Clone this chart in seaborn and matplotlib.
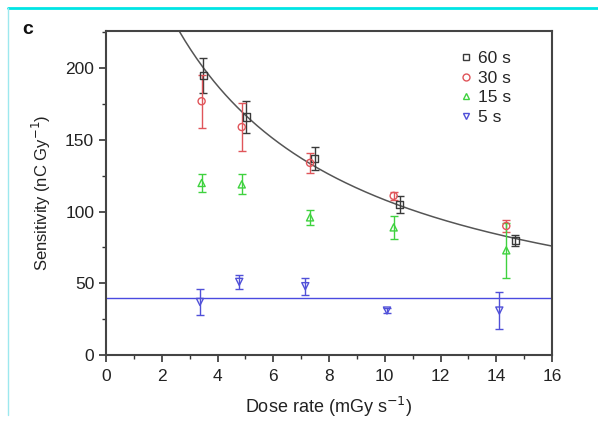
import numpy as np
import pandas as pd
import matplotlib
matplotlib.use("Agg")
import matplotlib.pyplot as plt
from matplotlib.lines import Line2D
import seaborn as sns

# ---- data ----
labels = ["60 s", "30 s", "15 s", "5 s"]
x60 = [3.49, 5.03, 7.48, 10.53, 14.69]
y60 = [195, 166, 137, 105, 80]
e60 = [12.5, 11, 8, 6, 4]

x30 = [3.43, 4.87, 7.32, 10.32, 14.36]
y30 = [177, 159, 134, 111, 90]
e30 = [18.5, 17, 7, 3, 4.5]

x15 = [3.43, 4.87, 7.32, 10.32, 14.36]
y15 = [120, 119, 96, 89, 73]
e15 = [6, 7, 5, 8, 19]

x5 = [3.37, 4.78, 7.15, 10.08, 14.11]
y5 = [37, 51, 48, 31, 31]
e5 = [9, 5, 6, 2, 13]

# fit parameters (curve y = A / (x + x0)) and constant line for 5 s
fit_A = 1531.0
fit_x0 = 4.15
const_5s = 40.0

xticks = [0, 2, 4, 6, 8, 10, 12, 14, 16]
yticks = [0, 50, 100, 150, 200]

colors = ["#3a3a3a", "#e0555a", "#3fd23f", "#5050d8"]
markers = ["s", "o", "^", "v"]

sns.set_style("ticks")
plt.rcParams["font.family"] = ["Liberation Sans", "DejaVu Sans"]

fig = plt.figure(figsize=(5.98, 4.21), dpi=100)
fig.patch.set_facecolor("white")
ax = fig.add_axes([106 / 598, 1 - 355 / 421, (552 - 106) / 598, (355 - 31) / 421])

# fitted curve and constant line
xc = np.linspace(0.5, 16, 300)
curve = pd.DataFrame({"x": xc, "y": fit_A / (xc + fit_x0)})
sns.lineplot(data=curve, x="x", y="y", color="#555555", lw=1.1, ax=ax)
hl = pd.DataFrame({"x": [0, 16], "y": [const_5s, const_5s]})
sns.lineplot(data=hl, x="x", y="y", color="#4a4ae0", lw=1.0, ax=ax)

series = [(x60, y60, e60), (x30, y30, e30), (x15, y15, e15), (x5, y5, e5)]
for (xs, ys, es), c, m in zip(series, colors, markers):
    ax.errorbar(xs, ys, yerr=es, fmt="none", ecolor=c, elinewidth=1.0,
                capsize=3, capthick=1.0, zorder=3)
    df = pd.DataFrame({"x": xs, "y": ys})
    sns.scatterplot(data=df, x="x", y="y", marker=m, s=26,
                    facecolors="none", edgecolor=c, linewidth=1.0, ax=ax, zorder=4)

ax.set_xlim(0, 16)
ax.set_ylim(0, 226)
ax.set_xticks(xticks)
ax.set_yticks(yticks)
ax.set_xticks(np.arange(1, 16, 2), minor=True)
ax.set_yticks(np.arange(25, 226, 50), minor=True)
ax.tick_params(axis="both", which="major", direction="out", length=5, width=1.2,
               labelsize=12.5, color="#333333", labelcolor="#222222")
ax.tick_params(axis="x", which="major", pad=5)
ax.tick_params(axis="both", which="minor", direction="out", length=3, width=1.0,
               color="#333333")
for sp in ax.spines.values():
    sp.set_visible(True)
    sp.set_linewidth(1.5)
    sp.set_color("#444444")

ax.set_xlabel("Dose rate (mGy s$^{-1}$)", fontsize=13, color="#222222", labelpad=8)
ax.set_ylabel("Sensitivity (nC Gy$^{-1}$)", fontsize=12, color="#222222", labelpad=9)

handles = [Line2D([], [], ls="none", marker=m, mfc="none", mec=c, mew=1.0, ms=5)
           for m, c in zip(markers, colors)]
ax.legend(handles, labels, loc="upper right", bbox_to_anchor=(0.935, 0.975),
          frameon=False, fontsize=12.5, handletextpad=0.2, handlelength=1.0,
          labelspacing=0.25, borderaxespad=0.3)

# panel letter and cyan frame lines
fig.text(22 / 598, 1 - 34 / 421, "c", fontsize=14, fontweight="bold", color="#111111")
fig.add_artist(Line2D([8 / 598, 1], [1 - 8 / 421, 1 - 8 / 421], color="#00e5e5",
                      lw=2.0, transform=fig.transFigure))
fig.add_artist(Line2D([8 / 598, 8 / 598], [1 - 8 / 421, 1 - 415 / 421], color="#9de8ee",
                      lw=1.0, transform=fig.transFigure))

fig.savefig("out.png", dpi=100)
